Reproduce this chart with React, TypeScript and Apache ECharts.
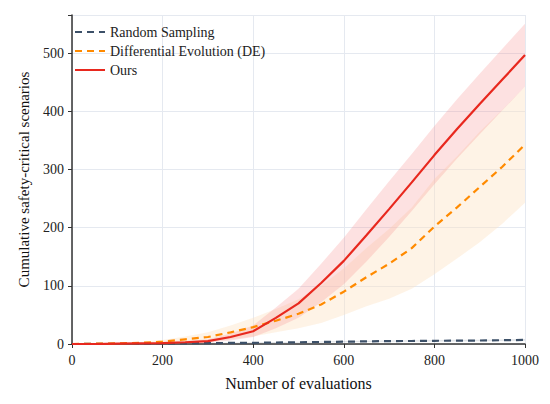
import React, { useEffect, useRef } from "react";
import * as echarts from "echarts";

const evals = [0, 50, 100, 150, 200, 250, 300, 350, 400, 450, 500, 550, 600, 650, 700, 750, 800, 850, 900, 950, 1000];
const randomMean = [0, 0.1, 0.3, 0.6, 1, 1.2, 1.5, 1.8, 2, 2.5, 3, 3.5, 4, 4.5, 5, 5.2, 5.5, 5.8, 6, 6.5, 7];
const randomStd = [0, 0.1, 0.2, 0.3, 0.4, 0.5, 0.6, 0.7, 0.8, 0.9, 1, 1, 1.1, 1.1, 1.2, 1.2, 1.3, 1.3, 1.4, 1.4, 1.5];
const deMean = [0, 0.5, 1, 2, 4, 8, 12, 20, 29, 40, 52, 68, 90, 115, 138, 165, 202, 235, 270, 305, 343];
const deStd = [0, 0.3, 0.6, 1.5, 3, 5, 8, 12, 16, 20, 25, 32, 40, 50, 60, 70, 82, 88, 95, 98, 100];
const oursMean = [0, 0, 0.5, 1, 1.5, 3, 5, 12, 22, 45, 70, 105, 143, 187, 232, 278, 325, 370, 413, 455, 497];
const oursStd = [0, 0, 0.3, 0.5, 1, 2, 3, 6, 10, 18, 25, 33, 40, 45, 48, 49, 50, 51, 52, 53, 54];

const names = ["Random Sampling", "Differential Evolution (DE)", "Ours"];
const yTicks = [0, 100, 200, 300, 400, 500];

const FONT = "'Liberation Serif', 'Times New Roman', serif";

function band(id: string, mean: number[], std: number[], color: string) {
  const rows = evals.map((x, i) => [x, Math.max(0, mean[i] - std[i]), mean[i] + std[i]]);
  return {
    name: id,
    type: "custom",
    data: rows,
    silent: true,
    z: 1,
    renderItem: (params: any, api: any) => {
      if (params.dataIndex !== 0) return null;
      const top = rows.map((r) => api.coord([r[0], r[2]]));
      const bot = rows.map((r) => api.coord([r[0], r[1]])).reverse();
      return {
        type: "polygon",
        shape: { points: top.concat(bot) },
        style: { fill: color, stroke: "none" },
      };
    },
    encode: { x: 0, y: [1, 2] },
  };
}

export default function App() {
  const ref = useRef<HTMLDivElement>(null);
  useEffect(() => {
    if (!ref.current) return;
    const chart = echarts.init(ref.current, undefined, { renderer: "svg" });
    const line = (name: string, data: number[], color: string, type: any, width: number) => ({
      name,
      type: "line",
      data: evals.map((x, i) => [x, data[i]]),
      symbol: "none",
      showSymbol: false,
      lineStyle: { color, type, width },
      itemStyle: { color },
      z: 3,
    });
    chart.setOption({
      animation: false,
      backgroundColor: "#ffffff",
      grid: { left: 54, right: 15, top: 7, bottom: 46, containLabel: false },
      legend: {
        data: names,
        orient: "vertical",
        left: 61,
        top: 12,
        itemWidth: 30,
        itemHeight: 10,
        itemGap: 5,
        itemStyle: { opacity: 0 },
        textStyle: { fontFamily: FONT, fontSize: 14, color: "#222" },
      },
      xAxis: {
        type: "value",
        min: 0,
        max: 1000,
        interval: 200,
        name: "Number of evaluations",
        nameLocation: "middle",
        nameGap: 31,
        nameTextStyle: { fontFamily: FONT, fontSize: 16, color: "#111" },
        axisLine: { lineStyle: { color: "#333", width: 1.5 } },
        axisTick: { show: true, length: 4, lineStyle: { color: "#333" } },
        axisLabel: { fontFamily: FONT, fontSize: 14, color: "#222", margin: 9, formatter: (v: number) => String(v) },
        splitLine: { show: true, lineStyle: { color: "#e5e9f0", width: 1 } },
      },
      yAxis: {
        type: "value",
        min: 0,
        max: 566,
        interval: 100,
        name: "Cumulative safety-critical scenarios",
        nameLocation: "middle",
        nameGap: 41,
        nameTextStyle: { fontFamily: FONT, fontSize: 15, color: "#111" },
        axisLine: { show: true, lineStyle: { color: "#333", width: 1.5 } },
        axisTick: { show: true, length: 4, lineStyle: { color: "#333" } },
        axisLabel: {
          fontFamily: FONT,
          fontSize: 14,
          color: "#222",
          margin: 8,
          formatter: (v: number) => (yTicks.includes(v) ? String(v) : ""),
        },
        splitLine: { show: true, lineStyle: { color: "#e5e9f0", width: 1 } },
      },
      series: [
        band("de_band", deMean, deStd, "rgba(253, 226, 195, 0.42)"),
        band("ours_band", oursMean, oursStd, "rgba(248, 140, 140, 0.26)"),
        band("rand_band", randomMean, randomStd, "rgba(60, 80, 105, 0.15)"),
        line(names[0], randomMean, "#3c5068", [7, 5], 2.2),
        line(names[1], deMean, "#ff8a00", [7, 5], 2.2),
        line(names[2], oursMean, "#e8281e", "solid", 2.2),
      ],
    });
    return () => chart.dispose();
  }, []);
  return <div ref={ref} style={{ width: 534, height: 388 }} />;
}
